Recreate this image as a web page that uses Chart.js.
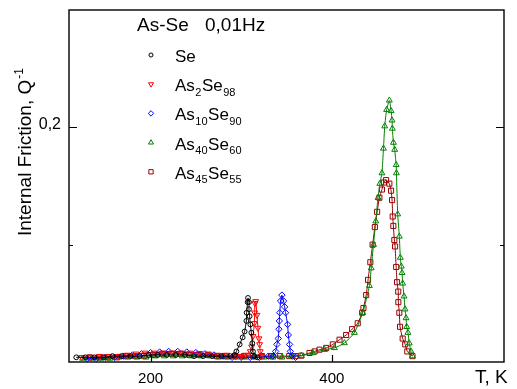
<!DOCTYPE html>
<html>
<head>
<meta charset="utf-8">
<script src="https://cdn.jsdelivr.net/npm/chart.js@4/dist/chart.umd.min.js"></script>
<style>
  html, body { margin: 0; padding: 0; background: #fff; }
  #wrap { width: 517px; height: 389px; }
</style>
</head>
<body>
<div id="wrap"><canvas id="chart" width="517" height="389"></canvas></div>
<script>
'use strict';

// Data (T in K, Q^-1)
const tSe = [118,128,138,148,158,168,178,188,198,208,218,228,238,248,258,268,278,288,292.8,294.7,298.3,301.6,303.8,305.7,306,307.1,307.5,308.6,308.6,309.3,310.1,311.2,312.3,313,314.5,318];
const qSe = [.004,.004,.004,.004,.005,.005,.005,.005,.006,.006,.006,.006,.006,.005,.005,.005,.005,.005,.006,.009,.015,.021,.026,.035,.042,.051,.0546,.051,.045,.039,.032,.025,.016,.009,.005,.004];

const tAs2 = [124,134,144,154,164,174,184,194,204,214,224,234,244,254,264,274,284,294,300,305,310.1,311.5,313,314.5,314.8,315.2,316,317.4,318.5,319.6,320.3,321,322.2];
const qAs2 = [.004,.004,.005,.005,.005,.006,.007,.0078,.0078,.0078,.0078,.0078,.0078,.0075,.007,.006,.006,.005,.005,.006,.009,.013,.022,.033,.042,.050,.0517,.040,.029,.020,.015,.009,.005];

const tAs10 = [130,140,150,160,170,180,190,200,210,220,230,240,250,260,270,280,290,300,310,320,330,335,338,339.4,340.9,341.6,342.1,342.6,343.5,344.9,346.8,347.9,349,351.2,352,353.4,354.2,356.4,360];
const qAs10 = [.003,.003,.004,.004,.005,.006,.007,.008,.0085,.009,.009,.0085,.008,.007,.006,.005,.004,.004,.004,.004,.005,.005,.009,.015,.020,.028,.035,.042,.052,.057,.052,.047,.042,.032,.023,.015,.009,.005,.004];

const tAs40 = [125,135,145,155,165,175,185,195,205,215,225,235,245,255,265,275,285,295,305,315,325,335,345,355,366.3,379,391.9,402.9,413.9,424.9,434.1,441.5,443.5,446,448.5,451,453,455.3,457,458.4,460.5,463.5,465.4,466.5,466.8,468,469.4,471,471.3,472.7,474.5,475.6,476.7,477.5,478.2,479.7,480.8,481.9,482.6,484,485.5,487.4,489];
const qAs40 = [.003,.003,.003,.003,.004,.004,.004,.004,.005,.005,.005,.005,.005,.005,.005,.004,.004,.004,.004,.004,.004,.004,.004,.005,.0054,.0077,.0105,.012,.0162,.025,.042,.065,.08,.10,.12,.14,.152,.161,.182,.201,.215,.223,.214,.206,.199,.187,.181,.168,.161,.126,.107,.089,.0815,.076,.067,.056,.045,.0375,.030,.025,.016,.009,.005];

const tAs45 = [133,143,153,163,173,183,193,203,213,223,233,243,253,263,273,283,293,303,313,323,333,343,353,360,366.3,375.4,381,386.4,393.8,401.1,408.5,415.8,422.4,428.6,433.5,434.9,437.9,440,442.5,445,447.5,450,452.5,455.3,457.5,459.9,463.5,465.4,466.5,467.2,467.9,469,469.8,471,472,473.3,473.4,474.5,475.3,478.2,481,483.3,489];
const qAs45 = [.004,.004,.004,.004,.005,.005,.005,.006,.007,.007,.007,.006,.006,.006,.005,.005,.005,.005,.005,.005,.005,.005,.005,.005,.0054,.0077,.009,.0105,.012,.015,.019,.023,.028,.033,.042,.046,.057,.07,.085,.10,.115,.128,.14,.147,.153,.155,.152,.146,.138,.124,.116,.104,.0985,.081,.068,.060,.051,.042,.030,.020,.015,.009,.005];

// Axis ticks
const xTicks = [200, 400];
const xTickLabels = ['200', '400'];
const yTicks = [0.2];
const yTickLabels = ['0,2'];
const yMinorTicks = [0.1];

// Legend labels: pieces [normal, subscript]
const legendParts = [
  [['Se', '']],
  [['As', '2'], ['Se', '98']],
  [['As', '10'], ['Se', '90']],
  [['As', '40'], ['Se', '60']],
  [['As', '45'], ['Se', '55']],
];

const FONT = '"Liberation Sans", Arial, sans-serif';

function pts(t, q) {
  return t.map((v, i) => ({ x: v, y: q[i] }));
}

function serie(label, t, q, color, style, rot, r) {
  return {
    label,
    data: pts(t, q),
    borderColor: color,
    backgroundColor: 'rgba(255,255,255,0)',
    pointBorderColor: color,
    pointBackgroundColor: 'rgba(255,255,255,0)',
    pointStyle: style,
    pointRotation: rot,
    pointRadius: r,
    pointBorderWidth: 1,
    borderWidth: 1,
    tension: 0.2,
    showLine: true,
    fill: false,
  };
}

const datasets = [
  serie('Se', tSe, qSe, '#000000', 'circle', 0, 2.4),
  serie('As2Se98', tAs2, qAs2, '#ff0000', 'triangle', 180, 3.4),
  serie('As10Se90', tAs10, qAs10, '#0000ff', 'rectRot', 0, 3.2),
  serie('As40Se60', tAs40, qAs40, '#008000', 'triangle', 0, 3.4),
  serie('As45Se55', tAs45, qAs45, '#990000', 'rect', 0, 3.6),
];

// Frame, ticks, labels and legend drawn Origin-style
const originAxes = {
  id: 'originAxes',
  afterDraw(chart) {
    const { ctx, chartArea: a, scales } = chart;
    const x = scales.x, y = scales.y;
    ctx.save();
    ctx.strokeStyle = '#000';
    ctx.lineWidth = 1.4;
    ctx.strokeRect(a.left, a.top, a.right - a.left, a.bottom - a.top);

    ctx.lineWidth = 1.2;
    ctx.beginPath();
    xTicks.forEach((v) => {
      const px = Math.round(x.getPixelForValue(v)) + 0.5;
      ctx.moveTo(px, a.bottom); ctx.lineTo(px, a.bottom - 7);
    });
    yTicks.forEach((v) => {
      const py = Math.round(y.getPixelForValue(v)) + 0.5;
      ctx.moveTo(a.left, py); ctx.lineTo(a.left + 8, py);
      ctx.moveTo(a.right, py); ctx.lineTo(a.right - 8, py);
    });
    yMinorTicks.forEach((v) => {
      const py = Math.round(y.getPixelForValue(v)) + 0.5;
      ctx.moveTo(a.left, py); ctx.lineTo(a.left + 4, py);
      ctx.moveTo(a.right, py); ctx.lineTo(a.right - 4, py);
    });
    ctx.stroke();

    ctx.fillStyle = '#000';
    ctx.font = '15px ' + FONT;
    ctx.textAlign = 'center';
    ctx.textBaseline = 'alphabetic';
    xTicks.forEach((v, i) => ctx.fillText(xTickLabels[i], x.getPixelForValue(v), 383));
    ctx.font = '16px ' + FONT;
    ctx.textAlign = 'right';
    ctx.textBaseline = 'middle';
    yTicks.forEach((v, i) => ctx.fillText(yTickLabels[i], 61, y.getPixelForValue(v) - 3));

    // axis titles
    ctx.textAlign = 'left';
    ctx.textBaseline = 'alphabetic';
    ctx.font = '19px ' + FONT;
    ctx.fillText('T, K', 475, 383);

    ctx.save();
    ctx.translate(31, 236);
    ctx.rotate(-Math.PI / 2);
    ctx.font = '19px ' + FONT;
    const main = 'Internal Friction, Q';
    ctx.fillText(main, 0, 0);
    const w = ctx.measureText(main).width;
    ctx.font = '12px ' + FONT;
    ctx.fillText('-1', w + 1, -8);
    ctx.restore();

    // legend
    ctx.font = '19px ' + FONT;
    ctx.fillText('As-Se', 137, 31);
    ctx.fillText('0,01Hz', 205, 31);
    legendParts.forEach((parts, i) => {
      const base = 62 + i * 29.2;
      const ds = chart.data.datasets[i];
      ctx.save();
      ctx.strokeStyle = ds.pointBorderColor;
      ctx.fillStyle = ds.pointBackgroundColor;
      ctx.lineWidth = 1;
      Chart.helpers.drawPoint(ctx, {
        pointStyle: ds.pointStyle, rotation: ds.pointRotation,
        radius: ds.pointRadius * 0.85, borderWidth: 1,
      }, 151, base - 7);
      ctx.restore();
      let cx = 175;
      parts.forEach(([txt, sub]) => {
        ctx.font = '17px ' + FONT;
        ctx.fillText(txt, cx, base);
        cx += ctx.measureText(txt).width;
        if (sub) {
          ctx.font = '11px ' + FONT;
          ctx.fillText(sub, cx + 0.5, base + 4.5);
          cx += ctx.measureText(sub).width + 1;
        }
      });
    });
    ctx.restore();
  },
};

new Chart(document.getElementById('chart').getContext('2d'), {
  type: 'scatter',
  data: { datasets },
  options: {
    responsive: false,
    devicePixelRatio: 1,
    animation: false,
    layout: { padding: { left: 69, top: 10, right: 13, bottom: 27 } },
    plugins: { legend: { display: false }, tooltip: { enabled: false } },
    scales: {
      x: { type: 'linear', min: 110, max: 590, display: false },
      y: { type: 'linear', min: 0, max: 0.3, display: false },
    },
  },
  plugins: [originAxes],
});
</script>
</body>
</html>
